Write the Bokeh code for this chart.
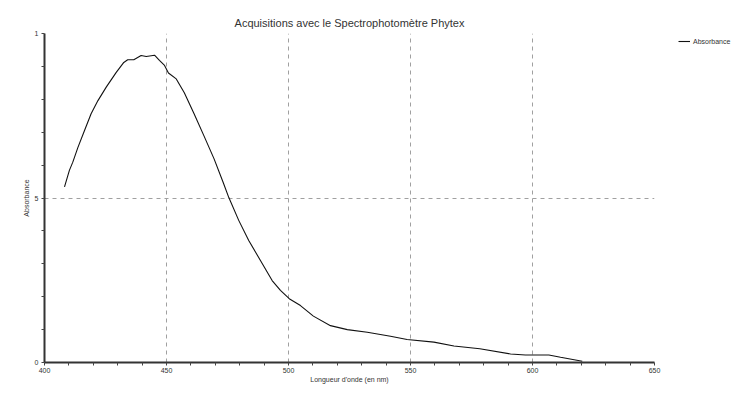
from bokeh.plotting import figure
from bokeh.models import FixedTicker, Legend, Range1d
from bokeh.embed import file_html
from bokeh.resources import INLINE

wavelength = [408.2, 410.2, 411.6, 413.7, 416.4, 419.1, 421.9, 425.3, 429.4, 432.5,
              434.1, 436.6, 439.6, 441.7, 445.1, 447.1, 449.2, 450.8, 454.0, 457.3,
              461.3, 465.4, 469.5, 473.2, 475.5, 479.6, 483.7, 488.5, 493.3, 496.7,
              500.3, 504.9, 510.2, 517.2, 524.1, 532.3, 541.8, 548.6, 559.6, 567.8,
              578.4, 591.0, 597.1, 606.7, 611.5, 620.4]
absorbance = [0.534, 0.584, 0.609, 0.654, 0.705, 0.756, 0.796, 0.837, 0.882, 0.912,
              0.920, 0.920, 0.933, 0.930, 0.934, 0.918, 0.903, 0.880, 0.862, 0.820,
              0.756, 0.688, 0.619, 0.548, 0.502, 0.432, 0.371, 0.310, 0.249, 0.219,
              0.194, 0.173, 0.141, 0.112, 0.100, 0.092, 0.080, 0.070, 0.062, 0.050,
              0.042, 0.026, 0.023, 0.023, 0.016, 0.004]

x_major = [400, 450, 500, 550, 600, 650]
x_minor = [v for v in range(400, 651, 10) if v % 50 != 0]
y_major = [0, 0.5, 1]
y_minor = [0.1, 0.2, 0.3, 0.4, 0.6, 0.7, 0.8, 0.9]
y_labels = {0: "0", 0.5: "5", 1: "1"}

p = figure(frame_width=610, frame_height=329, output_backend="svg", toolbar_location=None,
           x_range=Range1d(400, 650), y_range=Range1d(0, 1),
           title="Acquisitions avec le Spectrophotomètre Phytex",
           min_border_left=44, min_border_right=96, min_border_top=33, min_border_bottom=30)

p.title.align = "center"
p.title.text_font = "Liberation Sans"
p.title.text_font_size = "11px"
p.title.text_font_style = "normal"
p.title.text_color = "#333333"
p.title.standoff = 10

r = p.line(wavelength, absorbance, line_color="#111111", line_width=1.1)

legend = Legend(items=[("Absorbance", [r])])
legend.label_text_font = "Liberation Sans"
legend.label_text_font_size = "7px"
legend.label_text_color = "#333333"
legend.glyph_width = 12
legend.glyph_height = 8
legend.label_standoff = 3
legend.padding = 0
legend.spacing = 0
legend.border_line_color = None
legend.background_fill_alpha = 0
legend.label_height = 8
legend.margin = 0
p.add_layout(legend, "right")
legend.location = (24, 317)

for ax in (p.xaxis[0], p.yaxis[0]):
    ax.axis_line_color = "#333333"
    ax.axis_line_width = 2
    ax.major_tick_line_color = "#444444"
    ax.minor_tick_line_color = "#444444"
    ax.major_tick_out = 3
    ax.major_tick_in = 0
    ax.minor_tick_out = 3
    ax.minor_tick_in = 0
    ax.major_label_text_font = "Liberation Sans"
    ax.major_label_text_font_size = "7px"
    ax.major_label_text_color = "#333333"
    ax.axis_label_text_font = "Liberation Sans"
    ax.axis_label_text_font_size = "7px"
    ax.axis_label_text_font_style = "normal"
    ax.axis_label_text_color = "#333333"
    ax.major_label_standoff = 3
    ax.axis_label_standoff = 2

p.xaxis.major_label_standoff = 2
p.xaxis.axis_label_standoff = 0

p.xaxis.ticker = FixedTicker(ticks=x_major, minor_ticks=x_minor)
p.yaxis.ticker = FixedTicker(ticks=y_major, minor_ticks=y_minor)
p.yaxis.major_label_overrides = y_labels
p.xaxis.axis_label = "Longueur d'onde (en nm)"
p.yaxis.axis_label = "Absorbance"

p.xgrid.ticker = FixedTicker(ticks=[450, 500, 550, 600])
p.ygrid.ticker = FixedTicker(ticks=[0.5])
for g in (p.xgrid[0], p.ygrid[0]):
    g.grid_line_color = "#a0a0a0"
    g.grid_line_dash = "4 4"
    g.grid_line_width = 1

p.outline_line_color = None
p.background_fill_color = "white"
p.border_fill_color = "white"

open("out.html", "w").write(file_html(p, INLINE))
